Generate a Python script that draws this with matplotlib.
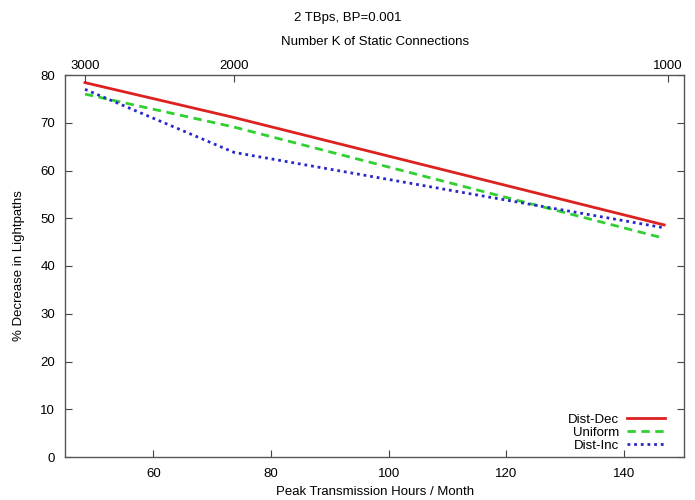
import matplotlib
matplotlib.use("Agg")
import matplotlib.pyplot as plt

plt.rcParams['font.family'] = ['Liberation Sans', 'DejaVu Sans']

hours = [48.4, 73.7, 146.8]
dist_dec = [78.4, 71.1, 48.6]
uniform = [76.0, 69.1, 45.8]
dist_inc = [77.0, 63.8, 48.0]

top_tick_pos = [48.4, 73.7, 147.4]
top_tick_labels = ["3000", "2000", "1000"]
bottom_ticks = [60, 80, 100, 120, 140]
y_ticks = [0, 10, 20, 30, 40, 50, 60, 70, 80]

FS = 9.5

fig = plt.figure(figsize=(6.95, 5.0), dpi=100)
ax = fig.add_axes([0.0935, 0.086, 0.891, 0.764])

ax.plot(hours, dist_dec, color='#dd2020', lw=2.0, label='Dist-Dec')
ax.plot(hours, uniform, color='#30d030', lw=2.0, ls=(0, (3, 2)), label='Uniform')
ax.plot(hours, dist_inc, color='#2828c8', lw=2.0, ls=(0, (1, 1.4)), label='Dist-Inc')

ax.set_xlim(45, 150.2)
ax.set_ylim(0, 80)
ax.set_xticks(bottom_ticks)
ax.set_yticks(y_ticks)
ax.tick_params(axis='x', direction='in', top=False, length=5, color='#444', labelsize=FS, pad=8)
ax.tick_params(axis='y', direction='in', right=True, length=5, color='#444', labelsize=FS, pad=7)
for s in ax.spines.values():
    s.set_color('#555')
    s.set_linewidth(1.0)

ax.set_xlabel('Peak Transmission Hours / Month', fontsize=FS, labelpad=4)
ax.set_ylabel('% Decrease in Lightpaths', fontsize=FS, labelpad=11)

top = ax.twiny()
top.set_xlim(ax.get_xlim())
top.set_xticks(top_tick_pos)
top.set_xticklabels(top_tick_labels)
top.tick_params(axis='x', direction='in', length=5, color='#444', labelsize=FS, pad=2)
top.set_xlabel('Number K of Static Connections', fontsize=FS, labelpad=11)
for s in top.spines.values():
    s.set_visible(False)

fig.text(0.5, 0.965, '2 TBps, BP=0.001', ha='center', va='center', fontsize=FS)

leg = ax.legend(loc='lower right', frameon=False, markerfirst=False, fontsize=FS,
                handlelength=2.9, labelspacing=0.05, handletextpad=0.6,
                borderaxespad=0.0, bbox_to_anchor=(0.978, 0.0))
for t in leg.get_texts():
    t.set_ha('right')

fig.savefig('out.png', dpi=100)
